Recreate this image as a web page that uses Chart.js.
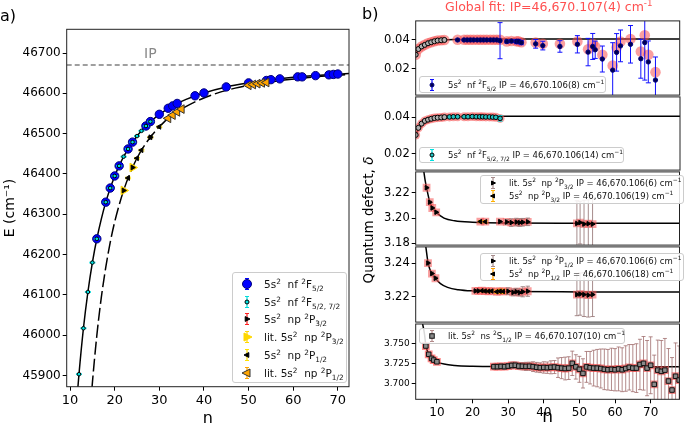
<!DOCTYPE html>
<html>
<head>
<meta charset="utf-8">
<script src="https://cdn.jsdelivr.net/npm/chart.js@4.4.0/dist/chart.umd.min.js"></script>
<style>
  body { margin:0; background:#fff; width:685px; height:429px; overflow:hidden; position:relative; font-family:"DejaVu Sans", sans-serif; }
  canvas { position:absolute; }
  .txt { position:absolute; white-space:nowrap; color:#000; line-height:1; }
  .legend { position:absolute; background:rgba(255,255,255,0.85); border:1px solid #cccccc; border-radius:3px; box-sizing:border-box; color:#111; white-space:nowrap; }
  .legend .row { display:flex; align-items:center; }
  .legend svg { flex:none; }
  sub, sup { font-size:0.7em; line-height:0; }
</style>
</head>
<body>
<canvas id="chart-a" width="355" height="429" style="left:0;top:0"></canvas>
<canvas id="chart-b1" width="335" height="92" style="left:350px;top:12px"></canvas>
<canvas id="chart-b2" width="335" height="91" style="left:350px;top:88px"></canvas>
<canvas id="chart-b3" width="335" height="91" style="left:350px;top:163px"></canvas>
<canvas id="chart-b4" width="335" height="93" style="left:350px;top:238px"></canvas>
<canvas id="chart-b5" width="335" height="113" style="left:350px;top:316px"></canvas>

<div class="txt" style="left:0;top:8px;font-size:16px">a)</div>
<div class="txt" style="left:362px;top:6px;font-size:16px">b)</div>
<div class="txt" style="left:445px;top:1px;font-size:12.5px;color:#ff5050">Global fit: IP=46,670.107(4) cm<sup>-1</sup></div>
<div class="txt" style="left:369px;top:220px;font-size:13.5px;transform:translate(-50%,-50%) rotate(-90deg)">Quantum defect, <i>δ</i></div>

<div class="legend" id="legend-a" style="left:232px;top:272px;width:115px;height:111px;font-size:10.5px;padding-top:2px"></div>
<div class="legend" id="legend-b1" style="left:419px;top:76px;width:187px;height:17px;font-size:8.5px"></div>
<div class="legend" id="legend-b2" style="left:419px;top:147px;width:205px;height:16px;font-size:8.5px"></div>
<div class="legend" id="legend-b3" style="left:480px;top:175px;width:204px;height:29px;font-size:8.5px"></div>
<div class="legend" id="legend-b4" style="left:480px;top:253px;width:204px;height:28px;font-size:8.5px"></div>
<div class="legend" id="legend-b5" style="left:419px;top:328px;width:206px;height:16px;font-size:8.5px"></div>

<script>
// ---------- panel a: energies E (cm-1) vs n ----------
var ipValue = 46670.107;
var aXTicks = [10, 20, 30, 40, 50, 60, 70];
var aYTicks = [45900, 46000, 46100, 46200, 46300, 46400, 46500, 46600, 46700];

var aCurveFN = [11.6, 12, 13, 14, 15, 16, 18, 20, 22, 25, 28, 32, 36, 40, 45, 50, 55, 60, 66, 72.5];
var aCurveFE = [45849, 45903, 46017, 46107, 46180, 46239, 46330, 46395, 46443, 46494, 46530, 46563, 46585, 46601, 46616, 46626, 46634, 46640, 46645, 46649];
var aCurvePN = [14.9, 15, 16, 17, 18, 19, 20, 22, 24, 26, 28, 31, 34, 38, 42, 47, 52, 58, 65, 72.5];
var aCurvePE = [45867, 45881, 45999, 46093, 46168, 46230, 46281, 46359, 46416, 46459, 46491, 46528, 46554, 46579, 46597, 46613, 46624, 46633, 46641, 46647];

var aF52N = [16, 18, 19, 20, 21, 23, 24, 27, 28, 30, 32, 33, 34, 38, 40, 45, 50, 54, 55, 57, 61, 62, 65, 68, 69, 70];
var aF52E = [46239, 46330, 46365, 46395, 46420, 46462, 46479, 46519, 46530, 46548, 46563, 46569, 46575, 46594, 46601, 46616, 46626, 46632, 46634, 46636, 46641, 46641, 46644, 46646, 46647, 46648];
var aF57N = [12, 13, 14, 15, 16, 18, 19, 20, 21, 22, 23, 24, 25, 26, 27, 28];
var aF57E = [45903, 46017, 46107, 46180, 46239, 46330, 46365, 46395, 46420, 46443, 46462, 46479, 46494, 46507, 46519, 46530];
var aP32N = [22, 24, 28];
var aP32E = [46359, 46416, 46491];
var aLitP32N = [22, 24];
var aLitP32E = [46359, 46416];
var aP12N = [23, 25, 26, 28, 30];
var aP12E = [46390, 46439, 46459, 46491, 46517];
var aLitP12N = [32, 33, 34, 35, 50, 51, 52, 53, 54];
var aLitP12E = [46538, 46546, 46554, 46561, 46620, 46622, 46624, 46626, 46627];

// ---------- panel b: quantum defects vs n ----------
var bXTicks = [10, 20, 30, 40, 50, 60, 70];

var b1Ticks = [0.02, 0.04];
var b1LineN = [4, 5, 6, 7, 8, 9, 10, 12, 15, 20, 30, 78.1];
var b1LineD = [0.0295, 0.0336, 0.0356, 0.0369, 0.0379, 0.0387, 0.0392, 0.0399, 0.0403, 0.0405, 0.0406, 0.0407];
var b1OpenN = [4.05, 4.8, 5.7, 6.6, 7.5, 8.4, 9.3, 10.2, 11.2, 12.1];
var b1OpenD = [0.0298, 0.0337, 0.0355, 0.0366, 0.0377, 0.0384, 0.0391, 0.0396, 0.0398, 0.0400];
var b1N = [15.8, 17.6, 18.5, 19.4, 20.3, 21.3, 22.2, 23.1, 24.0, 25.0, 25.9, 26.8, 27.7, 29.6, 30.9, 32.3, 32.9, 33.7, 37.7, 39.7, 44.5, 49.4, 52.4, 53.7, 54.4, 56.4, 59.3, 60.4, 61.5, 64.3, 67.2, 68.3, 69.3, 71.3];
var b1D = [0.0400, 0.0400, 0.0400, 0.0400, 0.0400, 0.0400, 0.0400, 0.0400, 0.0400, 0.0400, 0.0400, 0.0400, 0.0395, 0.0389, 0.0392, 0.0389, 0.0389, 0.0382, 0.0373, 0.0361, 0.0355, 0.0370, 0.0316, 0.0355, 0.0332, 0.0268, 0.0191, 0.0314, 0.0359, 0.0370, 0.0270, 0.0382, 0.0248, 0.0122];
var b1Fit = [0.0401, 0.0401, 0.0401, 0.0401, 0.0401, 0.0401, 0.0401, 0.0401, 0.0401, 0.0401, 0.0401, 0.0401, 0.0401, 0.0390, 0.0393, 0.0391, 0.0390, 0.0384, 0.0382, 0.0373, 0.0373, 0.0389, 0.0336, 0.0373, 0.0355, 0.0298, 0.0223, 0.0348, 0.0389, 0.0407, 0.0320, 0.0432, 0.0298, 0.0177];
var b1Err = [0.0005, 0.0005, 0.0005, 0.0005, 0.0005, 0.0005, 0.0005, 0.0005, 0.0005, 0.0005, 0.0005, 0.0005, 0.0125, 0.001, 0.001, 0.0015, 0.0015, 0.0015, 0.003, 0.003, 0.004, 0.006, 0.0095, 0.009, 0.006, 0.009, 0.019, 0.013, 0.011, 0.013, 0.0135, 0.026, 0.0145, 0.016];

var b2Ticks = [0.02, 0.04];
var b2LineD = [0.0298, 0.0339, 0.0361, 0.0376, 0.0385, 0.0391, 0.0395, 0.0399, 0.0402, 0.0404, 0.0405, 0.0405];
var b2OpenN = [4.05, 4.8, 5.7, 6.6, 7.5, 8.4, 9.3, 10.2, 11.2, 12.1];
var b2OpenD = [0.0302, 0.0341, 0.0364, 0.0379, 0.0386, 0.0391, 0.0395, 0.0397, 0.0398, 0.0400];
var b2N = [13.5, 14.6, 15.8, 17.6, 18.7, 19.9, 21.0, 22.0, 22.8, 23.7, 24.7, 25.6, 26.5, 27.7];
var b2D = [0.0401, 0.0402, 0.0402, 0.0402, 0.0402, 0.0403, 0.0402, 0.0402, 0.0402, 0.0401, 0.0401, 0.0400, 0.0399, 0.0393];
var b2Err = [0.0003, 0.0003, 0.0003, 0.0003, 0.0003, 0.0003, 0.0003, 0.0004, 0.0004, 0.0004, 0.0005, 0.0005, 0.0006, 0.0015];

var b3Ticks = [3.18, 3.20, 3.22];
var b3LineN = [6.35, 6.7, 7.1, 8.0, 8.7, 9.8, 12, 15, 20, 30, 50, 78.1];
var b3LineD = [3.2367, 3.2300, 3.2241, 3.2128, 3.2082, 3.2045, 3.2000, 3.1978, 3.1967, 3.1961, 3.1959, 3.1958];
var b3LitN = [7.1, 8.0, 8.7, 9.8, 27.7, 29.6, 30.9, 32.3, 33.2, 34.1, 35.5, 49.3, 50.2, 51.3, 52.5, 53.7];
var b3LitD = [3.2241, 3.2126, 3.2080, 3.2046, 3.1972, 3.1969, 3.1964, 3.1968, 3.1964, 3.1967, 3.1970, 3.1957, 3.1964, 3.1952, 3.1955, 3.1952];
var b3LitErr = [0.001, 0.001, 0.001, 0.001, 0.001, 0.002, 0.003, 0.003, 0.003, 0.003, 0.003, 0.018, 0.017, 0.019, 0.019, 0.020];
var b3N = [22.2, 23.6];
var b3D = [3.1972, 3.1971];
var b3Err = [0.0008, 0.0008];

var b4Ticks = [3.22, 3.24];
var b4LineN = [6.9, 7.5, 8.0, 8.6, 9.6, 11, 13, 16, 20, 30, 50, 78.1];
var b4LineD = [3.2496, 3.2405, 3.2365, 3.2338, 3.2308, 3.2278, 3.2256, 3.2242, 3.2235, 3.2231, 3.2229, 3.2228];
var b4LitN = [7.5, 8.6, 9.6, 20.8, 21.7, 30.0, 31.4, 32.3, 33.2, 34.1, 35.5, 49.3, 50.2, 51.3, 52.5, 53.7];
var b4LitD = [3.2400, 3.2338, 3.2310, 3.2235, 3.2235, 3.2233, 3.2226, 3.2230, 3.2225, 3.2230, 3.2233, 3.2213, 3.2216, 3.2213, 3.2210, 3.2213];
var b4LitErr = [0.001, 0.001, 0.001, 0.0005, 0.0005, 0.002, 0.002, 0.002, 0.002, 0.003, 0.003, 0.0125, 0.0125, 0.013, 0.013, 0.013];
var b4N = [22.6, 23.5, 24.5, 25.4, 26.8, 27.7, 28.6];
var b4D = [3.2236, 3.2234, 3.2233, 3.2234, 3.2230, 3.2233, 3.2232];
var b4Err = [0.0006, 0.0006, 0.0006, 0.0006, 0.001, 0.0012, 0.0012];

var b5Ticks = [3.700, 3.725, 3.750];
var b5LineN = [6.0, 6.5, 6.9, 7.7, 8.5, 9.1, 10, 12, 15, 20, 26, 50, 78.1];
var b5LineD = [3.7738, 3.7620, 3.7475, 3.7368, 3.7317, 3.7295, 3.7272, 3.7245, 3.7228, 3.7218, 3.7214, 3.7213, 3.7212];
var b5N = [6.9, 7.7, 8.5, 9.1, 10.0,
  26, 27, 28, 29, 30, 31, 32, 33, 34, 35, 36, 37, 38, 39, 40, 41, 42, 43, 44, 45, 46, 47, 48, 49, 50, 51, 52,
  53, 54, 55, 56, 57, 58, 59, 60, 61, 62, 63, 64, 65, 66, 67, 68, 69, 70, 71, 72, 73, 74, 75, 76, 77, 78];
var b5D = [3.7467, 3.7365, 3.7315, 3.7294, 3.7273,
  3.7213, 3.7213, 3.7216, 3.7213, 3.7220, 3.7228, 3.7230, 3.7220, 3.7218, 3.7216, 3.7218, 3.7213, 3.7205, 3.7200, 3.7203, 3.7200, 3.7205, 3.7208, 3.7200, 3.7195, 3.7190, 3.7195, 3.7254, 3.7210, 3.7180, 3.7130, 3.7210,
  3.7200, 3.7195, 3.7195, 3.7190, 3.7180, 3.7175, 3.7180, 3.7175, 3.7185, 3.7175, 3.7190, 3.7205, 3.7195, 3.7195, 3.7240, 3.7254, 3.7195, 3.7230, 3.6995, 3.7170, 3.7155, 3.7170, 3.7036, 3.6925, 3.7095, 3.7048];
var b5Err = [0.001, 0.001, 0.001, 0.001, 0.001,
  0.003, 0.003, 0.003, 0.0035, 0.003, 0.004, 0.004, 0.004, 0.0045, 0.005, 0.005, 0.006, 0.006, 0.006, 0.007, 0.007, 0.008, 0.008, 0.012, 0.013, 0.014, 0.014, 0.015, 0.015, 0.016, 0.018, 0.019,
  0.020, 0.022, 0.023, 0.024, 0.025, 0.025, 0.026, 0.026, 0.027, 0.027, 0.028, 0.028, 0.029, 0.030, 0.031, 0.033, 0.034, 0.035, 0.036, 0.037, 0.038, 0.039, 0.040, 0.040, 0.041, 0.042];

var haloRed = 'rgba(245,80,80,0.55)';
Chart.defaults.font.family = '"DejaVu Sans", sans-serif';
Chart.defaults.color = '#000';

function pts(xs, ys) {
  return xs.map(function(x, i) { return {x: x, y: ys[i]}; });
}

// vertical error bars drawn under each dataset's markers
var errorBarPlugin = {
  id: 'errorBars',
  beforeDatasetDraw: function(chart, args) {
    var ds = chart.data.datasets[args.index];
    if (!ds.errors) return;
    var ctx = chart.ctx, xs = chart.scales.x, ys = chart.scales.y, area = chart.chartArea;
    var cap = ds.capSize || 2.5;
    ctx.save();
    ctx.beginPath();
    ctx.rect(area.left, area.top, area.right - area.left, area.bottom - area.top);
    ctx.clip();
    ctx.strokeStyle = ds.errorColor;
    ctx.lineWidth = 1;
    ds.data.forEach(function(p, i) {
      var e = ds.errors[i];
      if (!e) return;
      var x = xs.getPixelForValue(p.x);
      var y1 = ys.getPixelForValue(p.y - e), y2 = ys.getPixelForValue(p.y + e);
      ctx.beginPath();
      ctx.moveTo(x, y1); ctx.lineTo(x, y2);
      ctx.moveTo(x - cap, y1); ctx.lineTo(x + cap, y1);
      ctx.moveTo(x - cap, y2); ctx.lineTo(x + cap, y2);
      ctx.stroke();
    });
    ctx.restore();
  }
};

var framePlugin = {
  id: 'frame',
  afterDraw: function(chart, args, opts) {
    var a = chart.chartArea, ctx = chart.ctx;
    ctx.save();
    ctx.strokeStyle = opts.color || '#000';
    ctx.lineWidth = opts.width || 1;
    ctx.strokeRect(a.left, a.top, a.right - a.left, a.bottom - a.top);
    ctx.restore();
  }
};

var textMarkPlugin = {
  id: 'textMarks',
  afterDatasetsDraw: function(chart, args, opts) {
    if (!opts.items) return;
    var ctx = chart.ctx;
    opts.items.forEach(function(it) {
      ctx.save();
      ctx.fillStyle = it.color;
      ctx.font = it.font;
      ctx.textAlign = 'center';
      ctx.textBaseline = 'middle';
      ctx.fillText(it.text, chart.scales.x.getPixelForValue(it.x), chart.scales.y.getPixelForValue(it.y));
      ctx.restore();
    });
  }
};
Chart.register(errorBarPlugin, framePlugin, textMarkPlugin);

function axisGrid() {
  return {drawOnChartArea: false, drawTicks: true, tickLength: 4, color: '#000', tickColor: '#000'};
}

function yAxis(min, max, ticks, decimals, width, fontSize) {
  return {
    type: 'linear', min: min, max: max,
    afterFit: function(s) { s.width = width; },
    afterBuildTicks: function(s) { s.ticks = ticks.map(function(v) { return {value: v}; }); },
    ticks: {
      padding: 2, color: '#000', font: {size: fontSize},
      callback: function(v) { return decimals === null ? String(v) : Number(v).toFixed(decimals); }
    },
    grid: axisGrid(),
    border: {display: false}
  };
}

function xAxis(min, max, show, height, tickSize, titleSize, ticks) {
  return {
    type: 'linear', min: min, max: max, display: show,
    afterFit: function(s) { if (show) s.height = height; },
    afterBuildTicks: function(s) { s.ticks = (ticks || bXTicks).map(function(v) { return {value: v}; }); },
    ticks: {padding: 2, color: '#000', font: {size: tickSize}, maxRotation: 0, callback: function(v) { return String(v); }},
    grid: axisGrid(),
    border: {display: false},
    title: {display: true, text: 'n', font: {size: titleSize}, color: '#000', padding: {top: 0, bottom: 1}}
  };
}

function baseOptions(scales, padding, extra) {
  var plugins = {legend: {display: false}, tooltip: {enabled: false}, frame: {color: '#222', width: 1}};
  for (var k in extra) plugins[k] = extra[k];
  return {
    responsive: false, animation: false, devicePixelRatio: 1, events: [],
    layout: {padding: padding},
    scales: scales,
    plugins: plugins
  };
}

function lineSet(xs, ys, dash) {
  return {data: pts(xs, ys), showLine: true, borderColor: '#000', borderWidth: 1.5, borderDash: dash || [],
    pointRadius: 0, cubicInterpolationMode: 'monotone', clip: 0, order: 20};
}

function markSet(xs, ys, style) {
  var ds = {data: pts(xs, ys), showLine: false, clip: 0, pointStyle: style.shape, rotation: style.rotation || 0,
    pointRadius: style.r, pointBackgroundColor: style.fill, pointBorderColor: style.stroke || style.fill,
    pointBorderWidth: style.bw === undefined ? 1 : style.bw, order: style.order || 1};
  if (style.errors) { ds.errors = style.errors; ds.errorColor = style.errColor; ds.capSize = style.cap; }
  if (style.legend) { ds.legendHtml = style.legend; ds.legendR = style.legendR || style.r; ds.legendErr = style.errColor; }
  return ds;
}

function markerSvg(ds) {
  var cx = 7, cy = 6, r = ds.legendR;
  var s = '<svg width="14" height="12" viewBox="0 0 14 12">';
  if (ds.legendErr) s += '<path d="M7 0.5V11.5M5 0.5H9M5 11.5H9" stroke="' + ds.legendErr + '" stroke-width="1.2" fill="none"/>';
  var fill = ds.pointBackgroundColor, stroke = ds.pointBorderColor;
  if (ds.pointStyle === 'circle') {
    s += '<circle cx="7" cy="6" r="' + r + '" fill="' + fill + '" stroke="' + stroke + '" stroke-width="1"/>';
  } else if (ds.pointStyle === 'rect') {
    var a = r * 0.75;
    s += '<rect x="' + (cx - a) + '" y="' + (cy - a) + '" width="' + 2 * a + '" height="' + 2 * a + '" fill="' + fill + '" stroke="' + stroke + '" stroke-width="1"/>';
  } else {
    var dir = ds.rotation === 90 ? 1 : -1;
    var p = [(cx - dir * r * 0.6) + ',' + (cy - r * 0.8), (cx + dir * r) + ',' + cy, (cx - dir * r * 0.6) + ',' + (cy + r * 0.8)];
    s += '<polygon points="' + p.join(' ') + '" fill="' + fill + '" stroke="' + stroke + '" stroke-width="1"/>';
  }
  return s + '</svg>';
}

function buildLegend(chart, el, rowH, markLeft, gap) {
  var html = '';
  chart.data.datasets.forEach(function(ds) {
    if (!ds.legendHtml) return;
    html += '<div class="row" style="height:' + rowH + 'px;padding-left:' + markLeft + 'px">' + markerSvg(ds) +
      '<span style="margin-left:' + gap + 'px">' + ds.legendHtml + '</span></div>';
  });
  el.innerHTML = html;
}

var s2 = '5s<sup>2</sup>&nbsp; ';
var cm = ' cm<sup>\u22121</sup>';

// ---------- panel a ----------
var aXMin = 9.25, aXMax = 72.5;
var chartA = new Chart(document.getElementById('chart-a'), {
  type: 'scatter',
  data: {datasets: [
    markSet(aF52N, aF52E, {shape: 'circle', r: 4.2, fill: '#0000ff', stroke: '#00007a', order: 6, errColor: '#0000ff',
      legend: s2 + 'nf <sup>2</sup>F<sub>5/2</sub>', legendR: 4.5}),
    markSet(aF57N, aF57E, {shape: 'circle', r: 1.8, fill: '#00e0e0', stroke: '#000', order: 4,
      errors: aF57N.map(function() { return 1; }), errColor: '#00dddd', cap: 3,
      legend: s2 + 'nf <sup>2</sup>F<sub>5/2, 7/2</sub>', legendR: 2}),
    markSet(aP32N, aP32E, {shape: 'triangle', rotation: 90, r: 2.8, fill: '#000', stroke: '#000', order: 2, errColor: '#ff2020',
      legend: s2 + 'np <sup>2</sup>P<sub>3/2</sub>', legendR: 3}),
    markSet(aLitP32N, aLitP32E, {shape: 'triangle', rotation: 90, r: 5, fill: '#ffd700', stroke: '#ffd700', order: 5, errColor: '#ffd700',
      legend: 'lit. ' + s2 + 'np <sup>2</sup>P<sub>3/2</sub>', legendR: 5}),
    markSet(aP12N, aP12E, {shape: 'triangle', rotation: -90, r: 2.8, fill: '#000', stroke: '#000', order: 2,
      errors: aP12N.map(function() { return 2; }), errColor: '#ffe000', cap: 3,
      legend: s2 + 'np <sup>2</sup>P<sub>1/2</sub>', legendR: 3}),
    markSet(aLitP12N, aLitP12E, {shape: 'triangle', rotation: -90, r: 5, fill: '#ffa500', stroke: '#333', order: 3, errColor: '#ffa500',
      legend: 'lit. ' + s2 + 'np <sup>2</sup>P<sub>1/2</sub>', legendR: 5}),
    lineSet(aCurveFN, aCurveFE),
    lineSet(aCurvePN, aCurvePE, [13, 4]),
    {data: [{x: aXMin, y: ipValue}, {x: aXMax, y: ipValue}], showLine: true, borderColor: '#808080', borderWidth: 1.5,
      borderDash: [5, 3], pointRadius: 0, clip: 0, order: 21}
  ]},
  options: baseOptions({
    x: xAxis(aXMin, aXMax, true, 42.3, 13, 16, aXTicks),
    y: (function() {
      var y = yAxis(45872, 46759, aYTicks, null, 66.7, 12);
      y.title = {display: true, text: 'E (cm\u207b\u00b9)', font: {size: 14}, color: '#000', padding: {top: 2, bottom: 2}};
      return y;
    })()
  }, {top: 29.3, right: 6, left: 0, bottom: 0}, {
    textMarks: {items: [{x: 28, y: 46696, text: 'IP', color: '#888', font: '14px "DejaVu Sans"'}]}
  })
});
buildLegend(chartA, document.getElementById('legend-a'), 17.8, 7, 10);

// ---------- panel b ----------
var bXMin = 4.05, bXMax = 78.1;
var bYW = 65.7;

var chartB1 = new Chart(document.getElementById('chart-b1'), {
  type: 'scatter',
  data: {datasets: [
    markSet(b1N, b1D, {shape: 'circle', r: 2.2, fill: '#000050', stroke: '#000080', order: 1,
      errors: b1Err, errColor: '#1010ff', cap: 2.5,
      legend: s2 + 'nf <sup>2</sup>F<sub>5/2</sub> IP = 46,670.106(8)' + cm, legendR: 2}),
    markSet(b1OpenN, b1OpenD, {shape: 'circle', r: 2.5, fill: '#b0b0b0', stroke: '#000', order: 2}),
    markSet(b1OpenN.concat(b1N), b1OpenD.concat(b1Fit), {shape: 'circle', r: 5.3, fill: haloRed, bw: 0, order: 9}),
    lineSet(b1LineN, b1LineD)
  ]},
  options: baseOptions({
    x: xAxis(bXMin, bXMax, false),
    y: yAxis(0.0018, 0.0532, b1Ticks, 2, bYW, 11.5)
  }, {top: 8.7, right: 1, left: 0, bottom: 8})
});
buildLegend(chartB1, document.getElementById('legend-b1'), 15, 5, 9);

var chartB2 = new Chart(document.getElementById('chart-b2'), {
  type: 'scatter',
  data: {datasets: [
    markSet(b2N, b2D, {shape: 'circle', r: 2.3, fill: '#20c0c0', stroke: '#000', order: 1,
      errors: b2Err, errColor: '#00e0e0', cap: 2.5,
      legend: s2 + 'nf <sup>2</sup>F<sub>5/2, 7/2</sub> IP = 46,670.106(14)' + cm, legendR: 2}),
    markSet(b2OpenN, b2OpenD, {shape: 'circle', r: 2.5, fill: '#b0b0b0', stroke: '#000', order: 2}),
    markSet(b2OpenN.concat(b2N), b2OpenD.concat(b2D), {shape: 'circle', r: 4.5, fill: haloRed, bw: 0, order: 9}),
    lineSet(b1LineN, b2LineD)
  ]},
  options: baseOptions({
    x: xAxis(bXMin, bXMax, false),
    y: yAxis(0.0109, 0.0511, b2Ticks, 2, bYW, 11.5)
  }, {top: 8, right: 1, left: 0, bottom: 8})
});
buildLegend(chartB2, document.getElementById('legend-b2'), 14, 5, 9);

var chartB3 = new Chart(document.getElementById('chart-b3'), {
  type: 'scatter',
  data: {datasets: [
    markSet(b3LitN, b3LitD, {shape: 'triangle', rotation: 90, r: 2.6, fill: '#000', stroke: '#000', order: 1,
      errors: b3LitErr, errColor: 'rgba(150,120,120,0.85)', cap: 2.2,
      legend: 'lit. ' + s2 + 'np <sup>2</sup>P<sub>3/2</sub> IP = 46,670.106(6)' + cm, legendR: 2.5}),
    markSet(b3N, b3D, {shape: 'triangle', rotation: -90, r: 2.6, fill: '#000', stroke: '#000', order: 1,
      errors: b3Err, errColor: '#ffb000', cap: 2.5,
      legend: s2 + 'np <sup>2</sup>P<sub>3/2</sub> IP = 46,670.106(19)' + cm, legendR: 2.5}),
    markSet(b3LitN.concat(b3N), b3LitD.concat(b3D), {shape: 'rect', r: 5.5, fill: haloRed, bw: 0, order: 9}),
    lineSet(b3LineN, b3LineD)
  ]},
  options: baseOptions({
    x: xAxis(bXMin, bXMax, false),
    y: yAxis(3.1785, 3.2367, b3Ticks, 2, bYW, 11.5)
  }, {top: 8, right: 1, left: 0, bottom: 8})
});
buildLegend(chartB3, document.getElementById('legend-b3'), 13, 5, 9);

var chartB4 = new Chart(document.getElementById('chart-b4'), {
  type: 'scatter',
  data: {datasets: [
    markSet(b4LitN, b4LitD, {shape: 'triangle', rotation: 90, r: 2.6, fill: '#000', stroke: '#000', order: 1,
      errors: b4LitErr, errColor: 'rgba(150,120,120,0.85)', cap: 2.2,
      legend: 'lit. ' + s2 + 'np <sup>2</sup>P<sub>1/2</sub> IP = 46,670.106(6)' + cm, legendR: 2.5}),
    markSet(b4N, b4D, {shape: 'triangle', rotation: -90, r: 2.6, fill: '#000', stroke: '#000', order: 1,
      errors: b4Err, errColor: '#ffa000', cap: 2.5,
      legend: s2 + 'np <sup>2</sup>P<sub>1/2</sub> IP = 46,670.106(18)' + cm, legendR: 2.5}),
    markSet(b4LitN.concat(b4N), b4LitD.concat(b4D), {shape: 'rect', r: 5.5, fill: haloRed, bw: 0, order: 9}),
    lineSet(b4LineN, b4LineD)
  ]},
  options: baseOptions({
    x: xAxis(bXMin, bXMax, false),
    y: yAxis(3.205, 3.2496, b4Ticks, 2, bYW, 11.5)
  }, {top: 8, right: 1, left: 0, bottom: 7.7})
});
buildLegend(chartB4, document.getElementById('legend-b4'), 13, 5, 9);

var chartB5 = new Chart(document.getElementById('chart-b5'), {
  type: 'scatter',
  data: {datasets: [
    markSet(b5N, b5D, {shape: 'rect', r: 3.2, fill: '#8a8a8a', stroke: '#111', order: 1,
      errors: b5Err, errColor: 'rgba(160,110,110,0.8)', cap: 2,
      legend: 'lit. ' + s2 + 'ns <sup>2</sup>S<sub>1/2</sub> IP = 46,670.107(10)' + cm, legendR: 3}),
    markSet(b5N, b5D, {shape: 'rect', r: 5.5, fill: 'rgba(255,60,60,0.6)', bw: 0, order: 9}),
    lineSet(b5LineN, b5LineD)
  ]},
  options: baseOptions({
    x: xAxis(bXMin, bXMax, true, 29.7, 12, 17, bXTicks),
    y: yAxis(3.6811, 3.7738, b5Ticks, 3, bYW, 9)
  }, {top: 8, right: 1, left: 0, bottom: 0})
});
buildLegend(chartB5, document.getElementById('legend-b5'), 14, 5, 9);
</script>
</body>
</html>
